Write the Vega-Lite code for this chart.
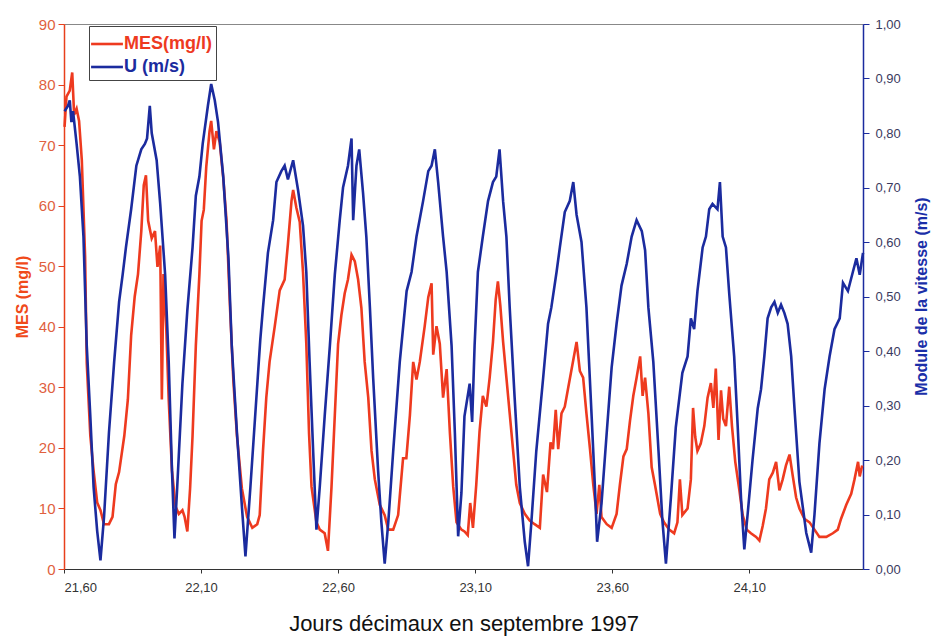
{
  "$schema": "https://vega.github.io/schema/vega-lite/v6.json",
  "width": 799,
  "height": 545,
  "autosize": {"type": "none"},
  "padding": {"left": 64, "top": 24, "right": 68, "bottom": 70},
  "background": "white",
  "view": {"stroke": "#888", "strokeWidth": 1},
  "config": {"font": "Liberation Sans"},
  "datasets": {
    "mes": [
      {"day": 21.602, "mes": 73}, {"day": 21.609, "mes": 78}, {"day": 21.621, "mes": 79}, {"day": 21.630, "mes": 82},
      {"day": 21.637, "mes": 75}, {"day": 21.646, "mes": 76}, {"day": 21.655, "mes": 74}, {"day": 21.665, "mes": 67.5},
      {"day": 21.677, "mes": 51.6}, {"day": 21.683, "mes": 34}, {"day": 21.696, "mes": 22}, {"day": 21.708, "mes": 16.2},
      {"day": 21.721, "mes": 11}, {"day": 21.733, "mes": 9.7}, {"day": 21.746, "mes": 7.4}, {"day": 21.764, "mes": 7.4},
      {"day": 21.777, "mes": 8.6}, {"day": 21.789, "mes": 14}, {"day": 21.801, "mes": 16}, {"day": 21.820, "mes": 22},
      {"day": 21.833, "mes": 28}, {"day": 21.845, "mes": 38.6}, {"day": 21.858, "mes": 45}, {"day": 21.870, "mes": 48.7},
      {"day": 21.882, "mes": 55.8}, {"day": 21.891, "mes": 63.4}, {"day": 21.899, "mes": 65}, {"day": 21.907, "mes": 57.5},
      {"day": 21.920, "mes": 54.6}, {"day": 21.932, "mes": 55.8}, {"day": 21.941, "mes": 49.9}, {"day": 21.951, "mes": 53.4},
      {"day": 21.957, "mes": 28}, {"day": 21.963, "mes": 48.7}, {"day": 21.973, "mes": 39.8}, {"day": 21.982, "mes": 28},
      {"day": 21.994, "mes": 16.2}, {"day": 22.007, "mes": 10.3}, {"day": 22.019, "mes": 9.1}, {"day": 22.032, "mes": 9.7},
      {"day": 22.040, "mes": 8.6}, {"day": 22.050, "mes": 6.2}, {"day": 22.060, "mes": 13.3}, {"day": 22.069, "mes": 22},
      {"day": 22.081, "mes": 36.9}, {"day": 22.094, "mes": 48.7}, {"day": 22.102, "mes": 57.5}, {"day": 22.110, "mes": 59.3},
      {"day": 22.119, "mes": 66.4}, {"day": 22.131, "mes": 72.3}, {"day": 22.137, "mes": 74}, {"day": 22.147, "mes": 69.3},
      {"day": 22.156, "mes": 72.3}, {"day": 22.168, "mes": 70.5}, {"day": 22.181, "mes": 64.6}, {"day": 22.193, "mes": 57.5},
      {"day": 22.206, "mes": 42.8}, {"day": 22.218, "mes": 31}, {"day": 22.231, "mes": 22}, {"day": 22.249, "mes": 13.3},
      {"day": 22.268, "mes": 8.6}, {"day": 22.287, "mes": 6.8}, {"day": 22.305, "mes": 7.4}, {"day": 22.314, "mes": 8.9},
      {"day": 22.326, "mes": 19.5}, {"day": 22.338, "mes": 28.3}, {"day": 22.350, "mes": 34.2}, {"day": 22.369, "mes": 40.1},
      {"day": 22.387, "mes": 46}, {"day": 22.405, "mes": 47.8}, {"day": 22.417, "mes": 53.7}, {"day": 22.430, "mes": 60.8},
      {"day": 22.436, "mes": 62.6}, {"day": 22.448, "mes": 59.6}, {"day": 22.460, "mes": 57.3}, {"day": 22.472, "mes": 49},
      {"day": 22.484, "mes": 37.2}, {"day": 22.494, "mes": 22.4}, {"day": 22.503, "mes": 13.6}, {"day": 22.521, "mes": 7.7},
      {"day": 22.533, "mes": 6.5}, {"day": 22.551, "mes": 5.9}, {"day": 22.563, "mes": 3}, {"day": 22.576, "mes": 13.6},
      {"day": 22.588, "mes": 25.4}, {"day": 22.600, "mes": 37.2}, {"day": 22.612, "mes": 41.9}, {"day": 22.624, "mes": 45.5},
      {"day": 22.636, "mes": 47.8}, {"day": 22.649, "mes": 51.9}, {"day": 22.661, "mes": 50.8}, {"day": 22.673, "mes": 47.8},
      {"day": 22.685, "mes": 43.1}, {"day": 22.697, "mes": 34.2}, {"day": 22.710, "mes": 28.3}, {"day": 22.722, "mes": 19.5},
      {"day": 22.734, "mes": 14.8}, {"day": 22.752, "mes": 10.6}, {"day": 22.770, "mes": 8.9}, {"day": 22.783, "mes": 6.5},
      {"day": 22.801, "mes": 6.5}, {"day": 22.819, "mes": 8.9}, {"day": 22.837, "mes": 18.3}, {"day": 22.849, "mes": 18.3},
      {"day": 22.862, "mes": 25.4}, {"day": 22.874, "mes": 34.2}, {"day": 22.886, "mes": 31.3}, {"day": 22.898, "mes": 34.2},
      {"day": 22.916, "mes": 40.1}, {"day": 22.929, "mes": 44.9}, {"day": 22.941, "mes": 47.2}, {"day": 22.947, "mes": 35.4},
      {"day": 22.959, "mes": 40.1}, {"day": 22.971, "mes": 37.2}, {"day": 22.983, "mes": 28.3}, {"day": 22.996, "mes": 33},
      {"day": 23.008, "mes": 22.4}, {"day": 23.020, "mes": 13.6}, {"day": 23.032, "mes": 7.7}, {"day": 23.050, "mes": 6.5},
      {"day": 23.061, "mes": 6.2}, {"day": 23.073, "mes": 5.6}, {"day": 23.082, "mes": 10.9}, {"day": 23.092, "mes": 6.8},
      {"day": 23.104, "mes": 13.9}, {"day": 23.116, "mes": 22.7}, {"day": 23.128, "mes": 28.6}, {"day": 23.141, "mes": 26.8},
      {"day": 23.153, "mes": 31.6}, {"day": 23.165, "mes": 37.5}, {"day": 23.175, "mes": 44.5}, {"day": 23.183, "mes": 47.5},
      {"day": 23.192, "mes": 43.4}, {"day": 23.202, "mes": 37.5}, {"day": 23.214, "mes": 31.6}, {"day": 23.226, "mes": 25.7},
      {"day": 23.238, "mes": 19.8}, {"day": 23.250, "mes": 13.9}, {"day": 23.263, "mes": 10.9}, {"day": 23.281, "mes": 9.1},
      {"day": 23.299, "mes": 8}, {"day": 23.317, "mes": 7.4}, {"day": 23.336, "mes": 6.8}, {"day": 23.348, "mes": 15.6},
      {"day": 23.362, "mes": 12.7}, {"day": 23.375, "mes": 20.9}, {"day": 23.384, "mes": 19.8}, {"day": 23.394, "mes": 26.3},
      {"day": 23.403, "mes": 19.8}, {"day": 23.415, "mes": 25.7}, {"day": 23.427, "mes": 26.8}, {"day": 23.439, "mes": 29.8},
      {"day": 23.458, "mes": 34.5}, {"day": 23.470, "mes": 37.5}, {"day": 23.482, "mes": 32.7}, {"day": 23.494, "mes": 31.6},
      {"day": 23.506, "mes": 25.7}, {"day": 23.519, "mes": 19.8}, {"day": 23.531, "mes": 13.9}, {"day": 23.543, "mes": 9.1},
      {"day": 23.553, "mes": 13.9}, {"day": 23.561, "mes": 8.6}, {"day": 23.580, "mes": 7.4}, {"day": 23.598, "mes": 6.8},
      {"day": 23.616, "mes": 9.1}, {"day": 23.628, "mes": 13.9}, {"day": 23.641, "mes": 18.6}, {"day": 23.653, "mes": 19.8},
      {"day": 23.665, "mes": 24.5}, {"day": 23.677, "mes": 28.6}, {"day": 23.689, "mes": 31.6}, {"day": 23.702, "mes": 35.1},
      {"day": 23.711, "mes": 28.6}, {"day": 23.720, "mes": 31.6}, {"day": 23.732, "mes": 25.7}, {"day": 23.744, "mes": 16.8},
      {"day": 23.756, "mes": 13.9}, {"day": 23.775, "mes": 9.1}, {"day": 23.789, "mes": 7.7}, {"day": 23.808, "mes": 6.5},
      {"day": 23.826, "mes": 5.9}, {"day": 23.838, "mes": 7.7}, {"day": 23.847, "mes": 14.8}, {"day": 23.856, "mes": 8.9},
      {"day": 23.875, "mes": 10}, {"day": 23.887, "mes": 14.8}, {"day": 23.895, "mes": 26.6}, {"day": 23.903, "mes": 21.8},
      {"day": 23.911, "mes": 19.5}, {"day": 23.923, "mes": 20.7}, {"day": 23.936, "mes": 23.6}, {"day": 23.948, "mes": 28.3},
      {"day": 23.960, "mes": 30.7}, {"day": 23.969, "mes": 26.6}, {"day": 23.978, "mes": 33.1}, {"day": 23.988, "mes": 21.3},
      {"day": 23.997, "mes": 29.5}, {"day": 24.005, "mes": 24.8}, {"day": 24.015, "mes": 23.6}, {"day": 24.027, "mes": 30.1},
      {"day": 24.037, "mes": 23.6}, {"day": 24.049, "mes": 17.7}, {"day": 24.064, "mes": 13}, {"day": 24.076, "mes": 8.9},
      {"day": 24.091, "mes": 6.5}, {"day": 24.106, "mes": 5.9}, {"day": 24.125, "mes": 5.3}, {"day": 24.137, "mes": 4.7},
      {"day": 24.149, "mes": 7.1}, {"day": 24.161, "mes": 10}, {"day": 24.173, "mes": 14.8}, {"day": 24.186, "mes": 15.9},
      {"day": 24.198, "mes": 17.7}, {"day": 24.210, "mes": 13}, {"day": 24.222, "mes": 14.8}, {"day": 24.234, "mes": 17.1},
      {"day": 24.247, "mes": 18.9}, {"day": 24.259, "mes": 15.3}, {"day": 24.271, "mes": 11.8}, {"day": 24.283, "mes": 10},
      {"day": 24.301, "mes": 8.3}, {"day": 24.320, "mes": 7.7}, {"day": 24.338, "mes": 6.5}, {"day": 24.356, "mes": 5.3},
      {"day": 24.381, "mes": 5.3}, {"day": 24.405, "mes": 5.9}, {"day": 24.423, "mes": 6.5}, {"day": 24.435, "mes": 8.3},
      {"day": 24.454, "mes": 10.6}, {"day": 24.472, "mes": 12.4}, {"day": 24.484, "mes": 14.8}, {"day": 24.497, "mes": 17.7},
      {"day": 24.503, "mes": 15.3}, {"day": 24.512, "mes": 17.1}
    ],
    "u": [
      {"day": 21.602, "u": 0.84}, {"day": 21.615, "u": 0.85}, {"day": 21.621, "u": 0.86}, {"day": 21.627, "u": 0.82},
      {"day": 21.633, "u": 0.84}, {"day": 21.646, "u": 0.78}, {"day": 21.658, "u": 0.72}, {"day": 21.671, "u": 0.61},
      {"day": 21.683, "u": 0.41}, {"day": 21.696, "u": 0.28}, {"day": 21.708, "u": 0.15}, {"day": 21.721, "u": 0.07},
      {"day": 21.733, "u": 0.016}, {"day": 21.746, "u": 0.095}, {"day": 21.764, "u": 0.25}, {"day": 21.783, "u": 0.38},
      {"day": 21.801, "u": 0.49}, {"day": 21.814, "u": 0.54}, {"day": 21.826, "u": 0.59}, {"day": 21.845, "u": 0.66},
      {"day": 21.864, "u": 0.74}, {"day": 21.882, "u": 0.77}, {"day": 21.895, "u": 0.78}, {"day": 21.903, "u": 0.79},
      {"day": 21.913, "u": 0.85}, {"day": 21.920, "u": 0.80}, {"day": 21.938, "u": 0.75}, {"day": 21.951, "u": 0.67},
      {"day": 21.969, "u": 0.54}, {"day": 21.982, "u": 0.38}, {"day": 21.994, "u": 0.18}, {"day": 22.003, "u": 0.056},
      {"day": 22.013, "u": 0.15}, {"day": 22.032, "u": 0.34}, {"day": 22.050, "u": 0.475}, {"day": 22.069, "u": 0.59},
      {"day": 22.081, "u": 0.685}, {"day": 22.094, "u": 0.72}, {"day": 22.106, "u": 0.78}, {"day": 22.125, "u": 0.85},
      {"day": 22.137, "u": 0.89}, {"day": 22.150, "u": 0.86}, {"day": 22.162, "u": 0.82}, {"day": 22.181, "u": 0.72},
      {"day": 22.200, "u": 0.57}, {"day": 22.212, "u": 0.41}, {"day": 22.231, "u": 0.25}, {"day": 22.249, "u": 0.115},
      {"day": 22.262, "u": 0.023}, {"day": 22.280, "u": 0.15}, {"day": 22.300, "u": 0.30}, {"day": 22.316, "u": 0.42},
      {"day": 22.326, "u": 0.48}, {"day": 22.344, "u": 0.58}, {"day": 22.363, "u": 0.64}, {"day": 22.375, "u": 0.71},
      {"day": 22.393, "u": 0.73}, {"day": 22.405, "u": 0.74}, {"day": 22.417, "u": 0.715}, {"day": 22.436, "u": 0.75},
      {"day": 22.454, "u": 0.695}, {"day": 22.472, "u": 0.63}, {"day": 22.484, "u": 0.545}, {"day": 22.496, "u": 0.38},
      {"day": 22.509, "u": 0.216}, {"day": 22.521, "u": 0.072}, {"day": 22.533, "u": 0.15}, {"day": 22.551, "u": 0.28},
      {"day": 22.570, "u": 0.41}, {"day": 22.588, "u": 0.54}, {"day": 22.606, "u": 0.64}, {"day": 22.618, "u": 0.70},
      {"day": 22.636, "u": 0.74}, {"day": 22.649, "u": 0.79}, {"day": 22.655, "u": 0.64}, {"day": 22.667, "u": 0.74},
      {"day": 22.677, "u": 0.77}, {"day": 22.691, "u": 0.69}, {"day": 22.703, "u": 0.61}, {"day": 22.716, "u": 0.48},
      {"day": 22.728, "u": 0.35}, {"day": 22.746, "u": 0.18}, {"day": 22.758, "u": 0.085}, {"day": 22.770, "u": 0.01},
      {"day": 22.783, "u": 0.085}, {"day": 22.801, "u": 0.216}, {"day": 22.825, "u": 0.38}, {"day": 22.850, "u": 0.51},
      {"day": 22.868, "u": 0.545}, {"day": 22.886, "u": 0.61}, {"day": 22.910, "u": 0.675}, {"day": 22.929, "u": 0.73},
      {"day": 22.941, "u": 0.74}, {"day": 22.953, "u": 0.77}, {"day": 22.965, "u": 0.71}, {"day": 22.983, "u": 0.61},
      {"day": 22.996, "u": 0.545}, {"day": 23.014, "u": 0.41}, {"day": 23.026, "u": 0.25}, {"day": 23.038, "u": 0.06},
      {"day": 23.050, "u": 0.14}, {"day": 23.061, "u": 0.28}, {"day": 23.080, "u": 0.34}, {"day": 23.089, "u": 0.27},
      {"day": 23.098, "u": 0.41}, {"day": 23.110, "u": 0.545}, {"day": 23.128, "u": 0.61}, {"day": 23.147, "u": 0.675},
      {"day": 23.165, "u": 0.71}, {"day": 23.177, "u": 0.72}, {"day": 23.189, "u": 0.77}, {"day": 23.202, "u": 0.675},
      {"day": 23.214, "u": 0.61}, {"day": 23.226, "u": 0.48}, {"day": 23.244, "u": 0.315}, {"day": 23.263, "u": 0.15},
      {"day": 23.281, "u": 0.05}, {"day": 23.293, "u": 0.005}, {"day": 23.305, "u": 0.085}, {"day": 23.323, "u": 0.216},
      {"day": 23.348, "u": 0.35}, {"day": 23.366, "u": 0.45}, {"day": 23.378, "u": 0.48}, {"day": 23.397, "u": 0.545},
      {"day": 23.409, "u": 0.59}, {"day": 23.427, "u": 0.655}, {"day": 23.445, "u": 0.675}, {"day": 23.458, "u": 0.71},
      {"day": 23.470, "u": 0.65}, {"day": 23.488, "u": 0.60}, {"day": 23.506, "u": 0.48}, {"day": 23.525, "u": 0.28},
      {"day": 23.537, "u": 0.15}, {"day": 23.545, "u": 0.05}, {"day": 23.561, "u": 0.12}, {"day": 23.580, "u": 0.25},
      {"day": 23.598, "u": 0.37}, {"day": 23.616, "u": 0.45}, {"day": 23.634, "u": 0.52}, {"day": 23.653, "u": 0.56},
      {"day": 23.671, "u": 0.61}, {"day": 23.689, "u": 0.64}, {"day": 23.708, "u": 0.62}, {"day": 23.720, "u": 0.585},
      {"day": 23.732, "u": 0.48}, {"day": 23.750, "u": 0.38}, {"day": 23.769, "u": 0.216}, {"day": 23.783, "u": 0.09},
      {"day": 23.796, "u": 0.01}, {"day": 23.814, "u": 0.13}, {"day": 23.832, "u": 0.26}, {"day": 23.856, "u": 0.36},
      {"day": 23.875, "u": 0.39}, {"day": 23.887, "u": 0.46}, {"day": 23.899, "u": 0.44}, {"day": 23.911, "u": 0.51},
      {"day": 23.930, "u": 0.59}, {"day": 23.942, "u": 0.61}, {"day": 23.954, "u": 0.66}, {"day": 23.966, "u": 0.67},
      {"day": 23.984, "u": 0.66}, {"day": 23.993, "u": 0.71}, {"day": 24.003, "u": 0.61}, {"day": 24.015, "u": 0.59},
      {"day": 24.027, "u": 0.505}, {"day": 24.045, "u": 0.39}, {"day": 24.058, "u": 0.26}, {"day": 24.070, "u": 0.13},
      {"day": 24.082, "u": 0.036}, {"day": 24.094, "u": 0.10}, {"day": 24.112, "u": 0.20}, {"day": 24.131, "u": 0.295},
      {"day": 24.143, "u": 0.33}, {"day": 24.155, "u": 0.39}, {"day": 24.167, "u": 0.46}, {"day": 24.180, "u": 0.48},
      {"day": 24.192, "u": 0.49}, {"day": 24.204, "u": 0.47}, {"day": 24.216, "u": 0.485}, {"day": 24.228, "u": 0.47},
      {"day": 24.240, "u": 0.45}, {"day": 24.253, "u": 0.39}, {"day": 24.265, "u": 0.295}, {"day": 24.283, "u": 0.16},
      {"day": 24.308, "u": 0.066}, {"day": 24.326, "u": 0.03}, {"day": 24.338, "u": 0.10}, {"day": 24.356, "u": 0.23},
      {"day": 24.375, "u": 0.33}, {"day": 24.393, "u": 0.39}, {"day": 24.411, "u": 0.44}, {"day": 24.430, "u": 0.46},
      {"day": 24.442, "u": 0.525}, {"day": 24.460, "u": 0.51}, {"day": 24.478, "u": 0.545}, {"day": 24.491, "u": 0.57},
      {"day": 24.503, "u": 0.54}, {"day": 24.515, "u": 0.58}
    ]
  },
  "encoding": {
    "x": {
      "field": "day",
      "type": "quantitative",
      "scale": {"domain": [21.6, 24.515], "nice": false, "zero": false},
      "axis": {
        "values": [21.6, 22.1, 22.6, 23.1, 23.6, 24.1],
        "labelExpr": "replace(format(datum.value, '.2f'), '.', ',')",
        "grid": false,
        "domainColor": "#333",
        "tickColor": "#333",
        "tickSize": 4,
        "labelPadding": 8,
        "labelFontSize": 13,
        "labelColor": "#333",
        "title": "Jours décimaux en septembre 1997",
        "titleFontSize": 22,
        "titleFontWeight": "normal",
        "titleColor": "#111",
        "titlePadding": 19
      }
    }
  },
  "layer": [
    {
      "data": {"name": "mes"},
      "mark": {"type": "line", "strokeWidth": 2.6, "interpolate": "linear"},
      "encoding": {
        "y": {
          "field": "mes",
          "type": "quantitative",
          "scale": {"domain": [0, 90], "nice": false},
          "axis": {
            "orient": "left",
            "values": [0, 10, 20, 30, 40, 50, 60, 70, 80, 90],
            "grid": false,
            "domainColor": "#E8401C",
            "domainWidth": 1.5,
            "tickColor": "#E8401C",
            "tickSize": 6,
            "labelPadding": 3,
            "labelFontSize": 15,
            "labelColor": "#E0603E",
            "title": "MES (mg/l)",
            "titleFontSize": 16,
            "titleFontWeight": "bold",
            "titleColor": "#F04A1A",
            "titlePadding": 8
          }
        },
        "color": {
          "datum": "MES(mg/l)",
          "type": "nominal",
          "scale": {"domain": ["MES(mg/l)", "U (m/s)"], "range": ["#EE3A1F", "#1B2B9E"]},
          "legend": {
            "title": null,
            "orient": "none",
            "legendX": 25,
            "legendY": 2,
            "padding": 4,
            "fillColor": "white",
            "strokeColor": "#444",
            "symbolType": "M-1.3,0H1.3",
            "symbolSize": 600,
            "symbolStrokeWidth": 2.6,
            "labelFontSize": 18,
            "labelFontWeight": "bold",
            "labelOffset": 3,
            "rowPadding": 0,
            "labelLimit": 200,
            "cornerRadius": 0,
            "encode": {
              "labels": {
                "update": {
                  "fill": {"signal": "datum.label === 'U (m/s)' ? '#1B2B9E' : '#EE3A1F'"}
                }
              }
            }
          }
        }
      }
    },
    {
      "data": {"name": "u"},
      "mark": {"type": "line", "strokeWidth": 2.6, "interpolate": "linear"},
      "encoding": {
        "y": {
          "field": "u",
          "type": "quantitative",
          "scale": {"domain": [0, 1], "nice": false},
          "axis": {
            "orient": "right",
            "values": [0, 0.1, 0.2, 0.3, 0.4, 0.5, 0.6, 0.7, 0.8, 0.9, 1.0],
            "labelExpr": "replace(format(datum.value, '.2f'), '.', ',')",
            "grid": false,
            "domainColor": "#1B2B9E",
            "domainWidth": 1.5,
            "tickColor": "#1B2B9E",
            "tickSize": 6,
            "labelPadding": 6,
            "labelFontSize": 13,
            "labelColor": "#3A3A5E",
            "title": "Module de la vitesse (m/s)",
            "titleAngle": 270,
            "titleX": 58,
            "titleY": 272,
            "titleAlign": "center",
            "titleBaseline": "middle",
            "titleFontSize": 16,
            "titleFontWeight": "bold",
            "titleColor": "#1B2FA8"
          }
        },
        "color": {"datum": "U (m/s)", "type": "nominal"}
      }
    }
  ],
  "resolve": {"scale": {"y": "independent"}}
}
